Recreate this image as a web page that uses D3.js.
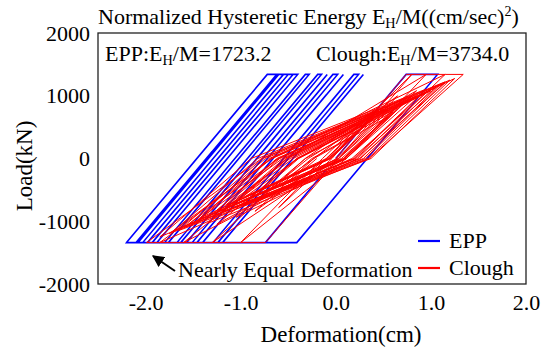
<!DOCTYPE html>
<html>
<head>
<meta charset="utf-8">
<script src="https://cdn.jsdelivr.net/npm/d3@7"></script>
<style>
  body { margin: 0; background: #fff; }
  svg { display: block; }
  text { font-family: "Liberation Serif", "Times New Roman", serif; fill: #000; }
</style>
</head>
<body>
<div class="chart"></div>
<script>
const WIDTH = 550;
const HEIGHT = 352;
const FONT = '"Liberation Serif", "Times New Roman", serif';

// tick labels
const xTicks = [-2.0, -1.0, 0.0, 1.0, 2.0];
const yTicks = [-2000, -1000, 0, 1000, 2000];

// EPP turning points (deformation cm, load kN)
const eppDef = [0, 0.74, 1.07, -0.41, -0.74, -0.10, -0.74, -1.19, 0.29, -0.40,
  0.10, -1.19, -1.29, 0.19, 0.24, -1.24, -1.40, 0.08, -0.70, -0.10,
  -1.40, -1.51, -0.03, 0.02, -1.46, -1.57, -0.09, -0.90, -0.40, -1.57,
  -1.67, -0.19, -0.15, -1.63, -1.80, -0.32, -0.28, -1.76, -1.93, -0.45,
  -1.20, -0.70, -1.93, -2.03, -0.55, -0.50, -1.98, -2.08, -0.60, -1.50,
  -1.00, -2.08, -2.20, -0.72, -1.46, -2.20, -0.90, -1.80, -0.72, -0.62,
  -2.10, -1.30, -1.85, -0.62, -0.40, -1.88, -1.20, -1.88, -1.14];
const eppLoad = [0, 1340, 1340, -1340, -1340, -180, -1340, -1340, 1340, 91,
  997, -1340, -1340, 1340, 1340, -1340, -1340, 1340, -72, 1016,
  -1340, -1340, 1340, 1340, -1340, -1340, 1340, -126, 780, -1340,
  -1340, 1340, 1340, -1340, -1340, 1340, 1340, -1340, -1340, 1340,
  -17, 889, -1340, -1340, 1340, 1340, -1340, -1340, 1340, -289,
  617, -1340, -1340, 1340, 0, -1340, 1016, -615, 1340, 1340,
  -1340, 110, -887, 1340, 1340, -1340, -108, -1340, 0];

// Clough turning points
const cloughDef = [0, 0.74, 0.80, 0.03, -0.74, -1.00, -0.14, 0.40, -0.04, -0.60,
  -0.10, 0.80, 0.95, 0.11, -1.00, -1.30, -0.32, 0.35, -0.09, -0.85,
  -0.23, 0.65, 0.03, -1.30, -1.60, -0.51, 0.95, 1.15, 0.23, -1.05,
  -0.29, 0.55, 0.01, -1.25, -0.40, 0.85, 0.11, -1.60, -1.85, -0.68,
  1.15, 1.34, 0.35, -1.35, -0.45, 0.95, 0.17, -1.85, -1.99, -0.78,
  0.75, 0.03, -1.45, -0.56, 1.15, 0.25, -1.75, -0.67, 0.50, -0.08,
  -0.95, -0.40, 0.30, -0.10, -1.15, -0.48, 1.05, 0.21, -1.60, -0.60,
  0.85, 0.11, -0.70, -0.23, 0.55, 0.06, -1.30, -0.62, 0.70, 0.08,
  -1.55, -0.74, 1.20, 0.34, -0.85, -0.32, 0.60, 0.09, -1.85, -0.89,
  0.95, 0.19, -1.20, -0.54, 0.40, -0.06, -1.05, -0.52, 1.25, 0.37,
  -1.65, -0.77, 0.80, 0.11, -0.60, -0.25, 0.20, -0.06, -1.40, -0.68,
  1.10, 0.29, -0.95, -0.39, 0.65, 0.09, -1.10, -0.51, 0.90, 0.20,
  -1.50, -0.70, 0.45, -0.07, -0.80, -0.41, 1.00, 0.26, -1.30, -0.59,
  0.60, 0.03, -1.70, -0.82, 1.15, 0.31, -1.00, -0.41, 0.35, -0.05,
  -1.25, -0.61, 0.75, 0.11, -0.50, -0.20];
const cloughLoad = [0, 1340, 1340, 0, -1340, -1340, 0, 770, 0, -782,
  0, 1340, 1340, 0, -1340, -1340, 0, 707, 0, -842,
  0, 999, 0, -1340, -1340, 0, 1340, 1340, 0, -937,
  0, 782, 0, -1049, 0, 1081, 0, -1340, -1340, 0,
  1340, 1340, 0, -1035, 0, 1048, 0, -1340, -1340, 0,
  967, 0, -982, 0, 1206, 0, -1196, 0, 780, 0,
  -610, 0, 539, 0, -744, 0, 1126, 0, -1102, 0,
  1002, 0, -517, 0, 666, 0, -889, 0, 902, 0,
  -1055, 0, 1250, 0, -684, 0, 743, 0, -1250, 0,
  1106, 0, -854, 0, 670, 0, -687, 0, 1275, 0,
  -1147, 0, 997, 0, -453, 0, 379, 0, -930, 0,
  1181, 0, -729, 0, 806, 0, -767, 0, 1021, 0,
  -1040, 0, 755, 0, -509, 0, 1080, 0, -929, 0,
  826, 0, -1148, 0, 1222, 0, -763, 0, 582, 0,
  -829, 0, 935, 0, -389, 0];

const series = [
  { name: 'EPP', color: '#0000ff', width: 1.6, def: eppDef, load: eppLoad },
  { name: 'Clough', color: '#ff0000', width: 1.0, def: cloughDef, load: cloughLoad }
];

const svg = d3.select('.chart')
    .append('svg')
    .attr('width', WIDTH)
    .attr('height', HEIGHT);

const plot = { left: 98, right: 526, top: 33, bottom: 284 };

const x = d3.scaleLinear().domain([-2.5, 2.0]).range([plot.left, plot.right]);
const y = d3.scaleLinear().domain([-2000, 2000]).range([plot.bottom, plot.top]);

const defs = svg.append('defs');
defs.append('clipPath').attr('id', 'clip')
    .append('rect')
    .attr('x', plot.left).attr('y', plot.top)
    .attr('width', plot.right - plot.left)
    .attr('height', plot.bottom - plot.top);

const line = d3.line()
    .x((d) => x(d[0]))
    .y((d) => y(d[1]));

const curves = svg.append('g').attr('clip-path', 'url(#clip)');
series.forEach((s) => {
  const pts = s.def.map((d, i) => [d, s.load[i]]);
  curves.append('path')
      .datum(pts)
      .attr('d', line)
      .attr('fill', 'none')
      .attr('stroke', s.color)
      .attr('stroke-width', s.width)
      .attr('stroke-linejoin', 'miter');
});

// frame
svg.append('rect')
    .attr('x', plot.left).attr('y', plot.top)
    .attr('width', plot.right - plot.left)
    .attr('height', plot.bottom - plot.top)
    .attr('fill', 'none')
    .attr('stroke', '#222')
    .attr('stroke-width', 1.3);

// axes (no tick marks in the original)
const xAxis = svg.append('g')
    .attr('transform', `translate(0,${plot.bottom})`)
    .call(d3.axisBottom(x).tickValues(xTicks).tickSize(0).tickPadding(10)
        .tickFormat((d) => d.toFixed(1)));
const yAxis = svg.append('g')
    .attr('transform', `translate(${plot.left},0)`)
    .call(d3.axisLeft(y).tickValues(yTicks).tickSize(0).tickPadding(8)
        .tickFormat((d) => String(d)));
[xAxis, yAxis].forEach((g) => {
  g.select('.domain').remove();
  g.attr('font-family', FONT);
  g.selectAll('text')
      .attr('font-size', 22)
      .attr('fill', '#000');
});

// axis titles
svg.append('text')
    .attr('x', 341).attr('y', 342)
    .attr('text-anchor', 'middle')
    .attr('font-size', 23)
    .text('Deformation(cm)');
svg.append('text')
    .attr('transform', 'translate(32,166) rotate(-90)')
    .attr('text-anchor', 'middle')
    .attr('font-size', 23)
    .text('Load(kN)');

// helper for text with subscript H
function subText(xPos, yPos, before, after, size) {
  const t = svg.append('text').attr('x', xPos).attr('y', yPos).attr('font-size', size);
  t.append('tspan').text(before);
  t.append('tspan').attr('font-size', size * 0.65).attr('dy', 4).text('H');
  t.append('tspan').attr('dy', -4).text(after);
  return t;
}

const title = subText(98, 24, 'Normalized Hysteretic Energy E', '/M((cm/sec)', 22);
title.append('tspan').attr('font-size', 14).attr('dy', -8).text('2');
title.append('tspan').attr('dy', 8).text(')');

subText(105, 61, 'EPP:E', '/M=1723.2', 22);
subText(316, 61, 'Clough:E', '/M=3734.0', 22);

// legend
const legend = svg.append('g');
series.forEach((s, i) => {
  const ly = 241 + i * 27;
  legend.append('line')
      .attr('x1', 418).attr('x2', 440)
      .attr('y1', ly).attr('y2', ly)
      .attr('stroke', s.color)
      .attr('stroke-width', 2.2);
  legend.append('text')
      .attr('x', 449).attr('y', ly + 7)
      .attr('font-size', 22)
      .text(s.name);
});

// annotation
defs.append('marker')
    .attr('id', 'arrow')
    .attr('viewBox', '0 0 10 10')
    .attr('refX', 9).attr('refY', 5)
    .attr('markerWidth', 6).attr('markerHeight', 6)
    .attr('orient', 'auto')
    .append('path')
    .attr('d', 'M0,0L10,5L0,10Z')
    .attr('fill', '#000');
svg.append('line')
    .attr('x1', 175).attr('y1', 271)
    .attr('x2', 153).attr('y2', 256)
    .attr('stroke', '#000')
    .attr('stroke-width', 2)
    .attr('marker-end', 'url(#arrow)');
svg.append('text')
    .attr('x', 178).attr('y', 277)
    .attr('font-size', 22)
    .text('Nearly Equal Deformation');
</script>
</body>
</html>
